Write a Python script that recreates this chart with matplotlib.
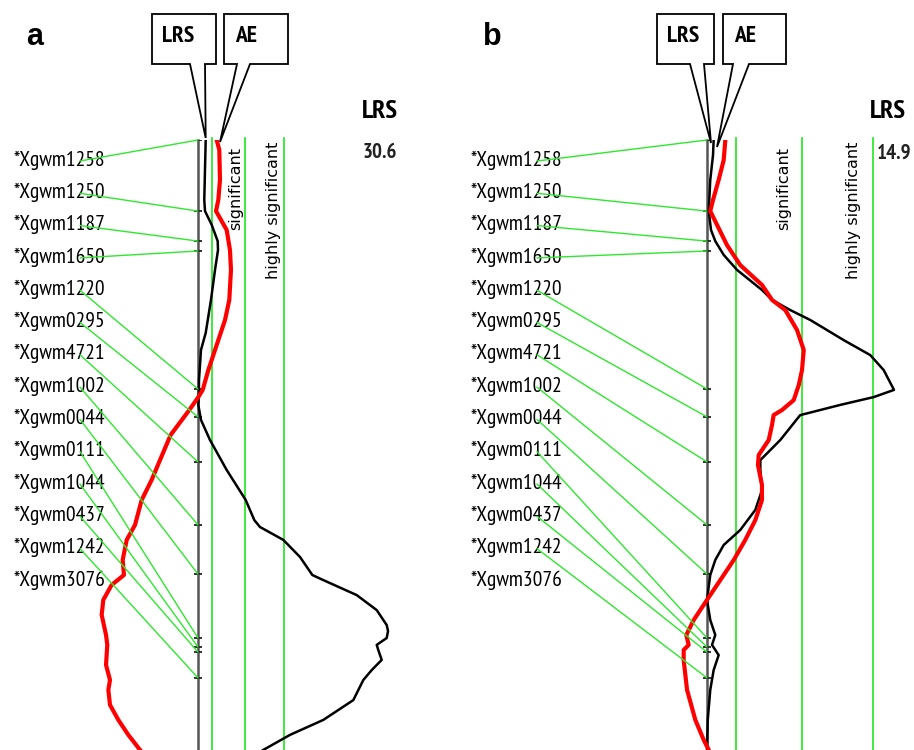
import matplotlib
matplotlib.use("Agg")
import matplotlib.pyplot as plt
from matplotlib.patches import Polygon, ConnectionPatch

# marker names and map positions (cM), same for both panels
markers = ["Xgwm1258", "Xgwm1250", "Xgwm1187", "Xgwm1650", "Xgwm1220", "Xgwm0295",
           "Xgwm4721", "Xgwm1002", "Xgwm0044", "Xgwm0111", "Xgwm1044", "Xgwm0437",
           "Xgwm1242", "Xgwm3076"]
marker_cm = [0, 23.7, 33.7, 37.0, 83.0, 92.3, 107.3, 128.3, 144.7, 166.0, 169.0,
             170.7, 179.3, 204.0]

# panel a : LRS scan (black) and additive effect (red)
pos_a_lrs = [0, 20.0, 23.7, 28.3, 33.7, 36.7, 43.3, 53.3, 64.3, 70.0, 80.0, 85.7, 88.3,
             93.3, 100.0, 110.0, 120.0, 126.7, 129.0, 133.3, 139.0, 145.0, 146.7, 151.7,
             156.7, 161.7, 163.7, 166.0, 168.3, 170.0, 173.3, 176.7, 180.0, 186.7, 193.3,
             198.3, 203.3, 208.3]
lrs_a = [1.24, 1.01, 1.13, 2.21, 3.17, 3.22, 2.74, 2.09, 1.24, 0.48, 0.16, 0.13, 0.05,
         0.48, 1.93, 4.62, 7.68, 9.07, 9.98, 13.74, 16.43, 18.41, 20.18, 25.56, 28.78,
         30.39, 30.6, 30.39, 28.78, 29.03, 29.58, 27.97, 26.62, 25.01, 20.18, 14.81,
         10.52, 6.76]
pos_a_ae = [0, 3.3, 13.3, 20.0, 23.7, 30.0, 36.7, 43.3, 53.3, 60.0, 70.0, 76.7, 83.3,
            85.7, 90.0, 98.3, 106.7, 113.3, 120.0, 128.3, 133.3, 140.0, 145.0, 148.3,
            153.3, 158.3, 165.0, 168.3, 175.0, 180.0, 183.3, 188.3, 193.3, 198.3, 203.3,
            208.3]
ae_a = [3.01, 3.43, 3.54, 3.27, 2.90, 4.62, 5.15, 5.31, 5.04, 4.35, 2.74, 1.66, 0.76,
        0.05, -1.40, -4.40, -6.12, -7.46, -9.07, -10.14, -11.48, -12.13, -11.92, -13.90,
        -15.25, -15.51, -14.81, -14.61, -14.81, -14.17, -14.44, -14.17, -12.83, -11.22,
        -9.34, -7.41]

# panel b
pos_b_lrs = [0, 5.0, 13.3, 23.7, 30.0, 33.7, 38.3, 43.3, 50.0, 53.3, 56.7, 60.0, 66.7,
             71.7, 76.7, 83.3, 85.7, 88.3, 91.7, 93.3, 100.0, 106.7, 110.0, 116.7, 123.3,
             130.0, 135.0, 140.0, 145.0, 153.3, 160.0, 165.0, 168.3, 171.7, 176.7, 183.3,
             193.3, 203.3, 208.3]
lrs_b = [0.53, 0.48, 0.26, 0.14, 0.32, 0.66, 1.33, 2.39, 4.38, 5.18, 6.64, 8.23, 10.89,
         13.01, 14.08, 14.9, 13.28, 10.62, 7.43, 7.12, 5.84, 4.25, 4.25, 4.38, 3.85, 2.65,
         1.33, 0.66, 0.26, 0.0, 0.26, 0.66, 0.40, 0.93, 0.53, 0.26, 0.06, 0.0, 0.0]
pos_b_ae = [0, 6.7, 13.3, 20.0, 23.7, 28.3, 35.0, 41.7, 48.3, 53.3, 56.7, 63.3, 70.0,
            76.7, 81.7, 86.7, 90.0, 91.7, 95.0, 100.0, 105.0, 108.3, 115.0, 120.0, 126.7,
            133.3, 140.0, 146.7, 153.3, 160.0, 165.0, 168.3, 170.0, 173.3, 183.3, 193.3,
            200.0, 203.3, 208.3]
ae_b = [1.46, 1.33, 0.93, 0.48, 0.26, 0.80, 1.59, 2.65, 4.38, 5.18, 6.24, 7.17, 7.71,
        7.57, 7.31, 6.91, 5.98, 5.31, 5.18, 4.92, 4.12, 4.06, 4.38, 4.38, 3.85, 3.05, 2.13,
        1.06, 0.0, -1.06, -1.65, -1.46, -1.86, -1.86, -1.59, -0.93, -0.26, 0.14, 0.40]

thresholds_a = [2.3, 7.6, 13.8]
thresholds_b = [2.3, 7.6, 13.2]
max_lrs = ["30.6", "14.9"]

W, H = 914, 750
GREEN = "#2ee82e"
NARROW = ["PT Sans Narrow", "DejaVu Sans"]
SANS = ["Liberation Sans", "DejaVu Sans"]

fig = plt.figure(figsize=(W / 100, H / 100), dpi=100)


def fx(x):
    return x / W


def fy(y):
    return 1 - y / H


def callout(x0, x1, t0, t1, tip):
    # speech-bubble box with a tail, given in pixels
    y0, y1 = 14, 64
    pts = [(x0, y0), (x1, y0), (x1, y1), (t1, y1), tip, (t0, y1), (x0, y1)]
    poly = Polygon([(fx(a), fy(b)) for a, b in pts], closed=True, fc="white",
                   ec="black", lw=1.3, transform=fig.transFigure, zorder=5)
    fig.add_artist(poly)


def panel(left, chrom, ppu, pos_l, lrs, pos_e, ae, thr, top_val, letter, boxes,
          lab_off, head_x, head_ha):
    ax = fig.add_axes([fx(left), 0, 457 / W, 610 / H])
    ax.set_xlim((left - chrom) / ppu, (left + 457 - chrom) / ppu)
    ax.set_ylim(610 / 3, 0)
    ax.axis("off")

    # threshold lines
    for t in thr:
        ax.plot([t, t], [-0.7, 215], color=GREEN, lw=1.3, clip_on=False)
    ax.text(thr[1] - lab_off / ppu, 16, "significant", rotation=90, ha="center",
            va="center", fontsize=11.5, family=["DejaVu Sans"])
    ax.text(thr[2] - lab_off / ppu, 23.5, "highly significant", rotation=90,
            ha="center", va="center", fontsize=11.5, family=["DejaVu Sans"])

    # chromosome with marker ticks
    ax.plot([0, 0], [0, 215], color="#555555", lw=1.8, clip_on=False)
    ax.plot([0] * len(marker_cm), marker_cm, ls="none", marker="_", ms=6,
            mew=1.3, color="#222222")

    ax.plot(lrs, pos_l, color="black", lw=1.8)
    ax.plot(ae, pos_e, color="red", lw=3.0)

    # marker labels connected to map positions
    lx = left + 13
    for i, name in enumerate(markers):
        ly = 160 + i * 32.3
        fig.text(fx(lx), fy(ly), "*" + name, ha="left", va="center",
                 fontsize=15.5, family=NARROW, color="black")
        con = ConnectionPatch(xyA=(fx(lx + 67), fy(ly + 1)), coordsA="figure fraction",
                              xyB=(0, marker_cm[i]), coordsB="data", axesB=ax,
                              color=GREEN, lw=1.0, zorder=4)
        fig.add_artist(con)

    for b in boxes:
        callout(*b)
    fig.text(fx(boxes[0][0] + 26), fy(37), "LRS", ha="center", va="center",
             fontsize=17, fontweight="bold", family=NARROW, zorder=6)
    fig.text(fx(boxes[1][0] + 22), fy(37), "AE", ha="center", va="center",
             fontsize=17, fontweight="bold", family=NARROW, zorder=6)

    fig.text(fx(head_x), fy(112), "LRS", ha=head_ha, va="center",
             fontsize=19, fontweight="bold", family=NARROW)
    hx = head_x if head_ha == "center" else head_x + 7
    fig.text(fx(hx), fy(153), top_val, ha=head_ha, va="center",
             fontsize=15, fontweight="bold", family=NARROW, color="#222222")
    fig.text(fx(left + 35), fy(37), letter, ha="center", va="center",
             fontsize=22, fontweight="bold", family=SANS)
    return ax


panel(0, 198, 6.21, pos_a_lrs, lrs_a, pos_a_ae, ae_a, thresholds_a, max_lrs[0], "a",
      [(152, 216, 190, 205, (205.7, 138)), (224, 288, 237, 250, (220, 142))],
      10, 380, "center")
panel(457, 707, 12.55, pos_b_lrs, lrs_b, pos_b_ae, ae_b, thresholds_b, max_lrs[1], "b",
      [(657, 714, 690, 704, (711, 143)), (723, 786, 733, 749, (717, 147))],
      19, 870, "left")

fig.savefig("out.png", dpi=100)
